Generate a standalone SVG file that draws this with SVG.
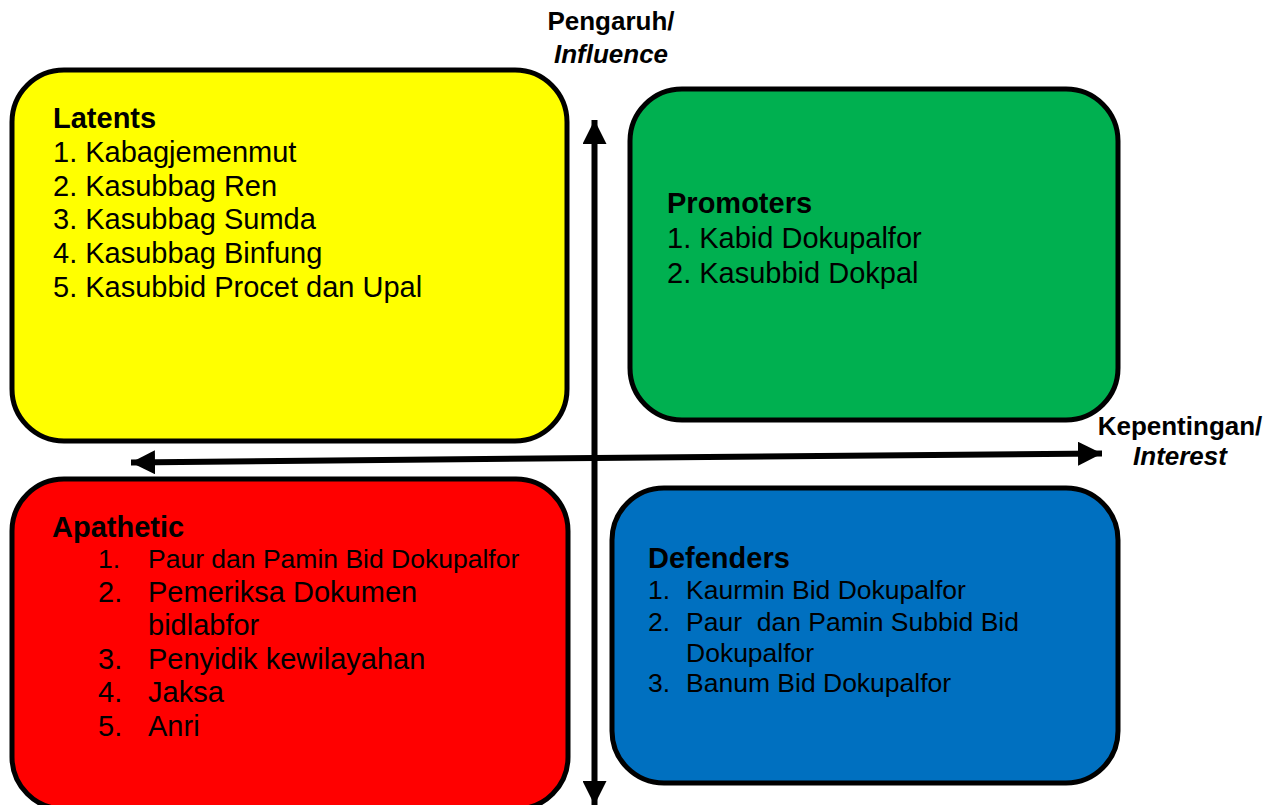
<svg xmlns="http://www.w3.org/2000/svg" width="1270" height="805" viewBox="0 0 1270 805">
<style>
.box{stroke:#000;stroke-width:5}
.t{font-family:"Liberation Sans",Arial,sans-serif;font-size:29px;fill:#000}
.h{font-weight:bold}
.s{font-size:26.5px}
.ax{font-family:"Liberation Sans",Arial,sans-serif;font-size:26px;font-weight:bold;fill:#000;text-anchor:middle}
.ax .i{font-style:italic}
.ln{stroke:#000;stroke-width:6;fill:none}
</style>
<defs>
<marker id="ah" markerUnits="userSpaceOnUse" markerWidth="26" markerHeight="24" refX="24" refY="12" orient="auto">
<path d="M0,0 L24,12 L0,24 Z" fill="#000"/>
</marker>
</defs>
<rect width="1270" height="805" fill="#fff"/>
<g id="latents">
<rect class="box" x="12" y="70" width="555" height="371" rx="52" fill="#FFFF00"/>
<text class="t h" x="53" y="128">Latents</text>
<text class="t" x="53" y="162">1. Kabagjemenmut</text>
<text class="t" x="53" y="196">2. Kasubbag Ren</text>
<text class="t" x="53" y="229">3. Kasubbag Sumda</text>
<text class="t" x="53" y="263">4. Kasubbag Binfung</text>
<text class="t" x="53" y="297">5. Kasubbid Procet dan Upal</text>
</g>
<g id="promoters">
<rect class="box" x="630" y="89" width="488" height="331" rx="52" fill="#00B050"/>
<text class="t h" x="667" y="213">Promoters</text>
<text class="t" x="667" y="248">1. Kabid Dokupalfor</text>
<text class="t" x="667" y="283">2. Kasubbid Dokpal</text>
</g>
<g id="apathetic">
<rect class="box" x="12" y="479" width="556" height="330" rx="52" fill="#FF0000"/>
<text class="t h" x="52" y="537">Apathetic</text>
<text class="t s" x="98" y="568">1.</text>
<text class="t s" x="148" y="568">Paur dan Pamin Bid Dokupalfor</text>
<text class="t" x="98" y="602">2.</text>
<text class="t" x="148" y="602">Pemeriksa Dokumen</text>
<text class="t" x="148" y="635">bidlabfor</text>
<text class="t" x="98" y="669">3.</text>
<text class="t" x="148" y="669">Penyidik kewilayahan</text>
<text class="t" x="98" y="702">4.</text>
<text class="t" x="148" y="702">Jaksa</text>
<text class="t" x="98" y="736">5.</text>
<text class="t" x="148" y="736">Anri</text>
</g>
<g id="defenders">
<rect class="box" x="612" y="488" width="506" height="295" rx="52" fill="#0070C0"/>
<text class="t h" x="648" y="568">Defenders</text>
<text class="t s" x="648" y="599">1.</text>
<text class="t s" x="686" y="599">Kaurmin Bid Dokupalfor</text>
<text class="t s" x="648" y="631">2.</text>
<text class="t s" x="686" y="631" xml:space="preserve" style="white-space:pre">Paur  dan Pamin Subbid Bid</text>
<text class="t s" x="686" y="662">Dokupalfor</text>
<text class="t s" x="648" y="692">3.</text>
<text class="t s" x="686" y="692">Banum Bid Dokupalfor</text>
</g>
<g id="axes">
<line class="ln" x1="594.5" y1="460" x2="594.5" y2="120" marker-end="url(#ah)"/>
<line class="ln" x1="594.5" y1="460" x2="594.5" y2="805" marker-end="url(#ah)"/>
<line class="ln" x1="594.5" y1="458" x2="131" y2="462.5" marker-end="url(#ah)"/>
<line class="ln" x1="594.5" y1="458" x2="1102" y2="453.5" marker-end="url(#ah)"/>
</g>
<g id="labels">
<text class="ax" x="611" y="30">Pengaruh/</text>
<text class="ax" x="611" y="63"><tspan class="i">Influence</tspan></text>
<text class="ax" x="1180" y="435">Kepentingan/</text>
<text class="ax" x="1180" y="465"><tspan class="i">Interest</tspan></text>
</g>
</svg>
